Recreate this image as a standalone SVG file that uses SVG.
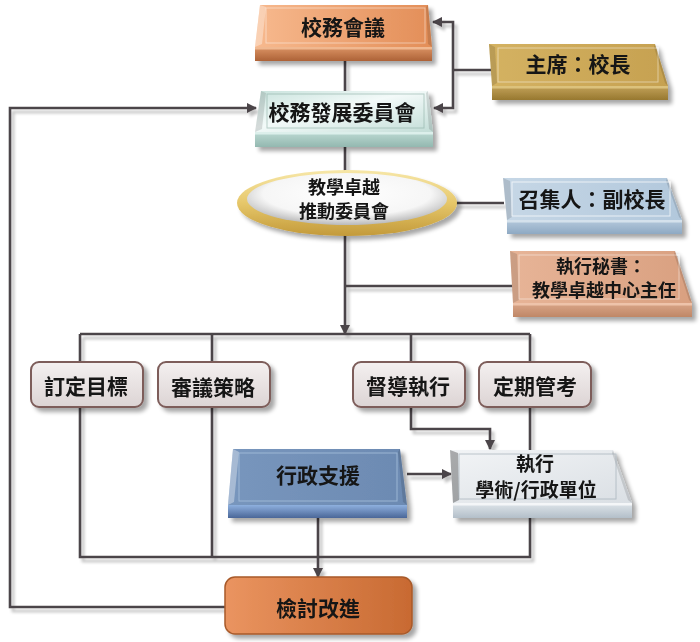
<svg xmlns="http://www.w3.org/2000/svg" width="700" height="642" viewBox="0 0 700 642">
<defs>
<style>
.t{font-family:"Noto Sans CJK TC","Noto Sans CJK SC",sans-serif;font-weight:bold;fill:#141414;text-anchor:middle;dominant-baseline:central}
.s20{font-size:21px}.s18{font-size:18px}
.ln{fill:none;stroke:#4b4548;stroke-width:2.6}
.in{fill:none;stroke:#ffffff;stroke-opacity:.45;stroke-width:1}
.hl{fill:#ffffff;fill-opacity:.35}
.dk{fill:#000000;fill-opacity:.12}
.rb{stroke:#7d5d5a;stroke-width:2}
</style>
<filter id="sh" x="-10%" y="-20%" width="130%" height="150%">
<feGaussianBlur in="SourceAlpha" stdDeviation="2.2"/>
<feOffset dx="4" dy="4" result="b"/>
<feComponentTransfer><feFuncA type="linear" slope="0.35"/></feComponentTransfer>
<feMerge><feMergeNode/><feMergeNode in="SourceGraphic"/></feMerge>
</filter>
<filter id="lsh" x="-5%" y="-5%" width="110%" height="110%">
<feGaussianBlur in="SourceAlpha" stdDeviation="1.5"/>
<feOffset dx="3" dy="4" result="b"/>
<feComponentTransfer><feFuncA type="linear" slope="0.25"/></feComponentTransfer>
<feMerge><feMergeNode/><feMergeNode in="SourceGraphic"/></feMerge>
</filter>
<marker id="ar" viewBox="0 0 10 10" refX="9" refY="5" markerWidth="4" markerHeight="4" orient="auto" markerUnits="strokeWidth">
<path d="M0,0 L10,5 L0,10 z" fill="#4b4548"/>
</marker>
<linearGradient id="fOr" x1="0" y1="0" x2="1" y2="0"><stop offset="0" stop-color="#f7b98e"/><stop offset="1" stop-color="#e38e58"/></linearGradient>
<linearGradient id="bOr" x1="0" y1="0" x2="0" y2="1"><stop offset="0" stop-color="#dc9466"/><stop offset="1" stop-color="#ad6236"/></linearGradient>
<linearGradient id="fGd" x1="0" y1="0" x2="1" y2="0"><stop offset="0" stop-color="#d4b262"/><stop offset="1" stop-color="#c6a150"/></linearGradient>
<linearGradient id="bGd" x1="0" y1="0" x2="0" y2="1"><stop offset="0" stop-color="#c3a25a"/><stop offset="1" stop-color="#97782f"/></linearGradient>
<linearGradient id="fTl" x1="0" y1="0" x2="1" y2="1"><stop offset="0" stop-color="#c9e3dd"/><stop offset="0.45" stop-color="#f3faf9"/><stop offset="1" stop-color="#c3ddd7"/></linearGradient>
<linearGradient id="bTl" x1="0" y1="0" x2="0" y2="1"><stop offset="0" stop-color="#bcd9d2"/><stop offset="1" stop-color="#93b8b0"/></linearGradient>
<linearGradient id="fBl" x1="0" y1="0" x2="1" y2="0"><stop offset="0" stop-color="#c6d7e6"/><stop offset="1" stop-color="#b2c8dc"/></linearGradient>
<linearGradient id="bBl" x1="0" y1="0" x2="0" y2="1"><stop offset="0" stop-color="#b5c9dc"/><stop offset="1" stop-color="#8ea9c3"/></linearGradient>
<linearGradient id="fSa" x1="0" y1="0" x2="1" y2="0"><stop offset="0" stop-color="#e7b497"/><stop offset="1" stop-color="#d9a080"/></linearGradient>
<linearGradient id="bSa" x1="0" y1="0" x2="0" y2="1"><stop offset="0" stop-color="#daa688"/><stop offset="1" stop-color="#bf8767"/></linearGradient>
<linearGradient id="fNv" x1="0" y1="0" x2="1" y2="0"><stop offset="0" stop-color="#7896bd"/><stop offset="1" stop-color="#6c8ab2"/></linearGradient>
<linearGradient id="bNv" x1="0" y1="0" x2="0" y2="1"><stop offset="0" stop-color="#8eb0de"/><stop offset="1" stop-color="#4a6698"/></linearGradient>
<linearGradient id="fGy" x1="0" y1="0" x2="1" y2="1"><stop offset="0" stop-color="#f2f4f6"/><stop offset="1" stop-color="#dadfe4"/></linearGradient>
<linearGradient id="bGy" x1="0" y1="0" x2="0" y2="1"><stop offset="0" stop-color="#dfe5ea"/><stop offset="1" stop-color="#b3bfc9"/></linearGradient>
<linearGradient id="fRb" x1="0" y1="0" x2="0" y2="1"><stop offset="0" stop-color="#f4f0f0"/><stop offset="1" stop-color="#dcd4d4"/></linearGradient>
<linearGradient id="fRv" x1="0" y1="0" x2="1" y2="0"><stop offset="0" stop-color="#ea9460"/><stop offset="1" stop-color="#c86a32"/></linearGradient>
<linearGradient id="gRing" x1="0" y1="0" x2="0" y2="1"><stop offset="0" stop-color="#f7e7a8"/><stop offset="0.5" stop-color="#e6c76a"/><stop offset="1" stop-color="#c39a3a"/></linearGradient>
<radialGradient id="gIn" cx="0.5" cy="0.4" r="0.6"><stop offset="0" stop-color="#ffffff"/><stop offset="0.7" stop-color="#f6f6f6"/><stop offset="1" stop-color="#b9b9b9"/></radialGradient>
</defs>
<rect width="700" height="642" fill="#ffffff"/>

<g id="connectors" filter="url(#lsh)">
<path class="ln" d="M345,61 V91"/>
<path class="ln" d="M345,147 V171"/>
<path class="ln" d="M345,234 V334" marker-end="url(#ar)"/>
<path class="ln" d="M345,286 H513"/>
<path class="ln" d="M456,203 H504"/>
<path class="ln" d="M491,70 H453"/>
<path class="ln" d="M453,70 V22 H433" marker-end="url(#ar)"/>
<path class="ln" d="M453,70 V108 H434" marker-end="url(#ar)"/>
<path class="ln" d="M80,334 H530"/>
<path class="ln" d="M80,334 V557 H530 V334"/>
<path class="ln" d="M212,334 V557"/>
<path class="ln" d="M411,334 V362"/>
<path class="ln" d="M411,406 V429 H490 V449" marker-end="url(#ar)"/>
<path class="ln" d="M407,474 H451" marker-end="url(#ar)"/>
<path class="ln" d="M318,517 V577" marker-end="url(#ar)"/>
<path class="ln" d="M225,607 H10 V108 H256" marker-end="url(#ar)"/>
</g>

<g id="n-council" filter="url(#sh)">
<rect x="255" y="47" width="177" height="14" fill="url(#bOr)"/>
<rect x="255" y="47" width="177" height="2.5" fill="#f0b890"/>
<polygon points="260,5 428,5 432,47 255,47" fill="url(#fOr)"/>
<polygon class="hl" points="260,5 266,7 262,44 255,47"/>
<polygon class="dk" points="428,5 426,7 428,44 432,47"/>
<rect class="in" x="266" y="8" width="159" height="35"/>
<text class="t s20" x="343" y="26">校務會議</text>
</g>

<g id="n-chair" filter="url(#sh)">
<rect x="492" y="86" width="176" height="14" fill="url(#bGd)"/>
<rect x="492" y="86" width="176" height="2.5" fill="#dcc27c"/>
<polygon points="489,44 655,44 668,86 492,86" fill="url(#fGd)"/>
<polygon class="dk" points="489,44 495,47 497,83 492,86"/>
<polygon class="dk" points="655,44 654,47 665,83 668,86"/>
<rect class="in" x="498" y="48" width="160" height="34"/>
<text class="t s20" x="578" y="63">主席：校長</text>
</g>

<g id="n-dev" filter="url(#sh)">
<rect x="255" y="132" width="178" height="15" fill="url(#bTl)"/>
<rect x="255" y="132" width="178" height="2.5" fill="#dcefeb"/>
<polygon points="261,91 428,91 433,132 255,132" fill="url(#fTl)"/>
<polygon class="dk" points="261,91 266,93 262,129 255,132"/>
<polygon class="dk" points="428,91 426,93 429,129 433,132"/>
<rect class="in" x="267" y="94" width="157" height="34" style="stroke:#8fb0a8;stroke-opacity:.6"/>
<text class="t s20" x="342" y="111">校務發展委員會</text>
</g>

<g id="n-promo" filter="url(#sh)">
<ellipse cx="347" cy="203" rx="110" ry="33" fill="url(#gRing)"/>
<ellipse cx="347" cy="199" rx="100" ry="26" fill="url(#gIn)"/>
<text class="t s18" x="344"><tspan x="344" y="186">教學卓越</tspan><tspan x="344" y="210">推動委員會</tspan></text>
</g>

<g id="n-convener" filter="url(#sh)">
<rect x="507" y="220" width="175" height="14" fill="url(#bBl)"/>
<rect x="507" y="220" width="175" height="2.5" fill="#d4e1ec"/>
<polygon points="503,178 667,178 682,220 507,220" fill="url(#fBl)"/>
<polygon class="dk" points="503,178 510,181 512,217 507,220"/>
<polygon class="dk" points="667,178 666,181 679,217 682,220"/>
<rect class="in" x="512" y="182" width="158" height="34" style="stroke-opacity:.7"/>
<text class="t s20" x="592" y="198">召集人：副校長</text>
</g>

<g id="n-secretary" filter="url(#sh)">
<rect x="513" y="303" width="179" height="14" fill="url(#bSa)"/>
<rect x="513" y="303" width="179" height="2.5" fill="#eec3aa"/>
<polygon points="510,251 675,251 692,303 513,303" fill="url(#fSa)"/>
<polygon class="dk" points="510,251 517,254 519,300 513,303"/>
<polygon class="dk" points="675,251 674,254 689,300 692,303"/>
<rect class="in" x="519" y="255" width="160" height="44"/>
<text class="t s18" x="602"><tspan x="601" y="265">執行秘書：</tspan><tspan x="604" y="289">教學卓越中心主任</tspan></text>
</g>

<g id="n-goal" filter="url(#sh)">
<rect class="rb" x="31" y="362" width="112" height="45" rx="8" fill="url(#fRb)"/>
<text class="t s20" x="86" y="385">訂定目標</text>
</g>
<g id="n-strategy" filter="url(#sh)">
<rect class="rb" x="158" y="362" width="112" height="45" rx="8" fill="url(#fRb)"/>
<text class="t s20" x="213" y="386">審議策略</text>
</g>
<g id="n-supervise" filter="url(#sh)">
<rect class="rb" x="353" y="362" width="112" height="45" rx="8" fill="url(#fRb)"/>
<text class="t s20" x="408" y="385">督導執行</text>
</g>
<g id="n-review" filter="url(#sh)">
<rect class="rb" x="479" y="362" width="112" height="45" rx="8" fill="url(#fRb)"/>
<text class="t s20" x="535" y="385">定期管考</text>
</g>

<g id="n-admin" filter="url(#sh)">
<rect x="228" y="505" width="179" height="13" fill="url(#bNv)"/>
<polygon points="233,449 400,449 407,505 228,505" fill="url(#fNv)"/>
<polygon class="hl" points="233,449 239,452 234,502 228,505"/>
<polygon class="dk" points="400,449 398,452 403,502 407,505"/>
<rect class="in" x="239" y="453" width="158" height="48" style="stroke:#a8c0dc;stroke-opacity:.8"/>
<text class="t s20" x="318" y="474">行政支援</text>
</g>

<g id="n-exec" filter="url(#sh)">
<rect x="453" y="503" width="179" height="15" fill="url(#bGy)"/>
<rect x="453" y="503" width="179" height="2.5" fill="#f4f6f8"/>
<polygon points="450,450 613,450 632,503 453,503" fill="url(#fGy)"/>
<polygon class="dk" points="450,450 458,453 459,500 453,503" style="fill-opacity:.3"/>
<polygon class="dk" points="613,450 612,453 628,500 632,503"/>
<rect class="in" x="459" y="454" width="157" height="45" style="stroke:#9aa6b0;stroke-opacity:.6"/>
<text class="t" style="font-size:19px" x="535"><tspan x="535" y="462">執行</tspan><tspan x="536" y="488">學術/行政單位</tspan></text>
</g>

<g id="n-improve" filter="url(#sh)">
<rect x="225" y="577" width="187" height="57" rx="10" fill="url(#fRv)" stroke="#a85a2a" stroke-width="1.5"/>
<text class="t s20" x="318" y="607">檢討改進</text>
</g>
</svg>
